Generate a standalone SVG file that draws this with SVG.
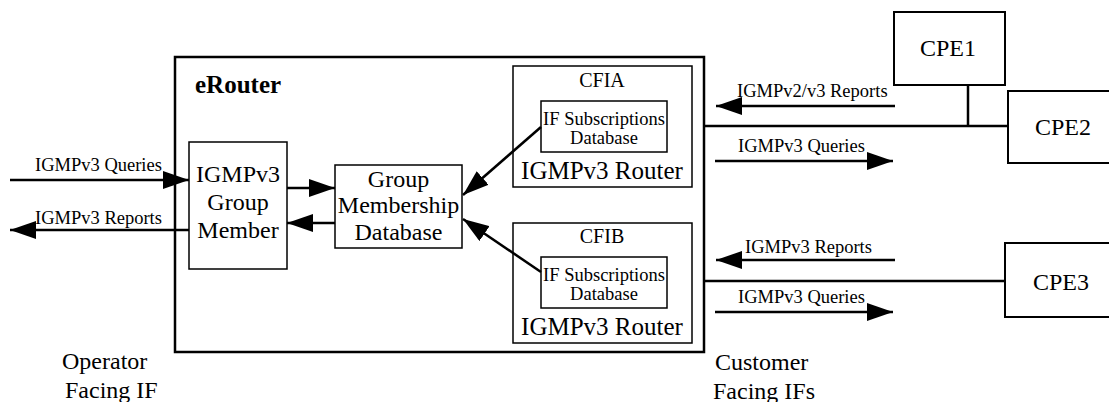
<svg xmlns="http://www.w3.org/2000/svg" width="1109" height="402" viewBox="0 0 1109 402">
<defs>
<style>
text{font-family:"Liberation Serif","Times New Roman",serif;fill:#000}
.box{fill:#fff;stroke:#000;stroke-width:1.5}
.thick{fill:none;stroke:#000;stroke-width:2.5}
.cpe{fill:#fff;stroke:#000;stroke-width:2}
.ln{fill:none;stroke:#000;stroke-width:2.5}
.big{font-size:24px}
.mid{font-size:20px}
.sm{font-size:18.5px}
.lbl{font-size:18.5px}
</style>
<marker id="ah" markerUnits="userSpaceOnUse" markerWidth="28" markerHeight="18" refX="26" refY="9" orient="auto">
<path d="M0,0 L26,9 L0,18 z" fill="#000"/>
</marker>
</defs>
<g id="erouter">
<rect class="thick" x="175" y="57" width="529" height="295"/>
<text x="195" y="93" font-size="25" font-weight="bold">eRouter</text>
</g>
<g id="group-member">
<rect class="box" x="189" y="142" width="98" height="127"/>
<text class="big" text-anchor="middle" x="238" y="182">IGMPv3</text>
<text class="big" text-anchor="middle" x="238" y="210">Group</text>
<text class="big" text-anchor="middle" x="238" y="238">Member</text>
</g>
<g id="gmd">
<rect class="box" x="335" y="165" width="127" height="83"/>
<text class="big" text-anchor="middle" x="398.5" y="187">Group</text>
<text class="big" text-anchor="middle" x="398.5" y="213">Membership</text>
<text class="big" text-anchor="middle" x="398.5" y="240">Database</text>
</g>
<g id="cfia">
<rect class="box" x="513" y="66" width="179" height="121"/>
<text class="mid" text-anchor="middle" x="602" y="87">CFIA</text>
<rect class="box" x="541" y="101" width="126" height="51"/>
<text class="sm" text-anchor="middle" x="604" y="125">IF Subscriptions</text>
<text class="sm" text-anchor="middle" x="604" y="144">Database</text>
<text font-size="25" text-anchor="middle" x="602" y="179">IGMPv3 Router</text>
</g>
<g id="cfib">
<rect class="box" x="513" y="223" width="179" height="120"/>
<text class="mid" text-anchor="middle" x="602" y="243">CFIB</text>
<rect class="box" x="541" y="257" width="126" height="51"/>
<text class="sm" text-anchor="middle" x="604" y="281">IF Subscriptions</text>
<text class="sm" text-anchor="middle" x="604" y="300">Database</text>
<text font-size="25" text-anchor="middle" x="602" y="335">IGMPv3 Router</text>
</g>
<g id="cpe1">
<rect class="cpe" x="894" y="12" width="111" height="73"/>
<text class="big" text-anchor="middle" x="948" y="56">CPE1</text>
</g>
<g id="cpe2">
<rect class="cpe" x="1008" y="91" width="110" height="72"/>
<text class="big" text-anchor="middle" x="1063" y="135">CPE2</text>
</g>
<g id="cpe3">
<rect class="cpe" x="1005" y="243" width="113" height="74"/>
<text class="big" text-anchor="middle" x="1061" y="290">CPE3</text>
</g>
<g id="connectors">
<line class="ln" x1="10" y1="180" x2="189" y2="180" marker-end="url(#ah)"/>
<line class="ln" x1="189" y1="230" x2="10" y2="230" marker-end="url(#ah)"/>
<line class="ln" x1="287" y1="188" x2="335" y2="188" marker-end="url(#ah)"/>
<line class="ln" x1="335" y1="223" x2="287" y2="223" marker-end="url(#ah)"/>
<line class="ln" x1="541" y1="127" x2="463" y2="195" marker-end="url(#ah)"/>
<line class="ln" x1="541" y1="272" x2="463" y2="219" marker-end="url(#ah)"/>
<polyline class="ln" points="704,126 1008,126"/>
<polyline class="ln" points="968,85 968,126"/>
<polyline class="ln" points="704,281 1005,281"/>
<line class="ln" x1="895" y1="106" x2="716" y2="106" marker-end="url(#ah)"/>
<line class="ln" x1="715" y1="161" x2="893" y2="161" marker-end="url(#ah)"/>
<line class="ln" x1="895" y1="260" x2="716" y2="260" marker-end="url(#ah)"/>
<line class="ln" x1="715" y1="312" x2="893" y2="312" marker-end="url(#ah)"/>
</g>
<g id="labels">
<text class="lbl" x="35" y="171">IGMPv3 Queries</text>
<text class="lbl" x="35" y="224">IGMPv3 Reports</text>
<text class="lbl" x="737" y="97">IGMPv2/v3 Reports</text>
<text class="lbl" x="738" y="152">IGMPv3 Queries</text>
<text class="lbl" x="745" y="253">IGMPv3 Reports</text>
<text class="lbl" x="738" y="303">IGMPv3 Queries</text>
<text class="big" x="62" y="369">Operator</text>
<text class="big" x="65" y="398">Facing IF</text>
<text class="big" x="715" y="370">Customer</text>
<text class="big" x="713" y="399">Facing IFs</text>
</g>
</svg>
